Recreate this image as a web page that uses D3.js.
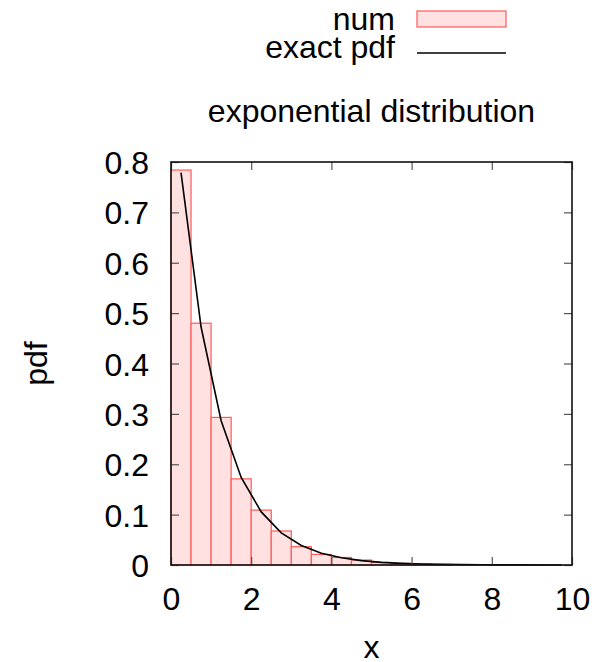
<!DOCTYPE html>
<html>
<head>
<meta charset="utf-8">
<script src="https://cdn.jsdelivr.net/npm/d3@7"></script>
<style>
  html, body { margin: 0; padding: 0; background: #fff; }
  svg { display: block; font-family: "Liberation Sans", Arial, sans-serif; }
</style>
</head>
<body>
<svg id="chart" width="600" height="662"></svg>
<script>
// Histogram bins (left edges) and numeric pdf estimate
const binStarts = [0, 0.5, 1, 1.5, 2, 2.5, 3, 3.5, 4, 4.5, 5, 5.5, 6, 6.5];
const binWidth = 0.5;
const numValues = [0.784, 0.480, 0.293, 0.171, 0.109, 0.0675, 0.0364, 0.021, 0.015, 0.0099, 0.005, 0.003, 0.002, 0.001];
// Exact pdf sampled at bin centres
const exactX = [0.25, 0.75, 1.25, 1.75, 2.25, 2.75, 3.25, 3.75, 4.25, 4.75, 5.25, 5.75, 6.25, 6.75, 7.25, 7.75, 8.25, 8.75, 9.25, 9.75];
const exactY = [0.7788, 0.4724, 0.2865, 0.1738, 0.1054, 0.0639, 0.0388, 0.0235, 0.0143, 0.0087, 0.0052, 0.0032, 0.0019, 0.0012, 0.0007, 0.0004, 0.0003, 0.0002, 0.0001, 0.00006];
const xTicks = [0, 2, 4, 6, 8, 10];
const yTicks = [0, 0.1, 0.2, 0.3, 0.4, 0.5, 0.6, 0.7, 0.8];
const titleText = "exponential distribution";
const xLabel = "x";
const yLabel = "pdf";
const legendLabels = ["num", "exact pdf"];

const svg = d3.select("#chart");
const pLeft = 171, pRight = 572, pTop = 162, pBottom = 565;
const fs = 32;

const x = d3.scaleLinear().domain([0, 10]).range([pLeft, pRight]);
const y = d3.scaleLinear().domain([0, 0.8]).range([pBottom, pTop]);

const barFill = "#ffe1e1";
const barStroke = "#ff5a5a";

// bars
svg.append("g").selectAll("rect").data(binStarts).join("rect")
  .attr("x", (d) => x(d))
  .attr("y", (d, i) => y(numValues[i]))
  .attr("width", (d) => x(d + binWidth) - x(d))
  .attr("height", (d, i) => y(0) - y(numValues[i]))
  .attr("fill", barFill)
  .attr("stroke", barStroke)
  .attr("stroke-width", 1.2);

// exact pdf line
const line = d3.line().x((d, i) => x(exactX[i])).y((d) => y(d));
svg.append("path").datum(exactY)
  .attr("d", line)
  .attr("fill", "none")
  .attr("stroke", "#000")
  .attr("stroke-width", 1.6);

// axes with inward ticks
function styleAxis(g) {
  g.select(".domain").remove();
  g.selectAll(".tick line").attr("stroke", "#555").attr("stroke-width", 1.2);
  g.selectAll(".tick text").attr("fill", "#000").style("font-size", fs + "px")
    .style("font-family", "'Liberation Sans', Arial, sans-serif");
}
const fmtY = (d) => d === 0 ? "0" : d3.format(".1f")(d);

svg.append("g").attr("transform", `translate(0,${pBottom})`)
  .call(d3.axisBottom(x).tickValues(xTicks).tickSize(-8).tickPadding(22).tickFormat(d3.format("d")))
  .call(styleAxis);
svg.append("g").attr("transform", `translate(0,${pTop})`)
  .call(d3.axisTop(x).tickValues(xTicks).tickSize(-8).tickFormat(""))
  .call(styleAxis);
const gl = svg.append("g").attr("transform", `translate(${pLeft},0)`)
  .call(d3.axisLeft(y).tickValues(yTicks).tickSize(-8).tickPadding(22).tickFormat(fmtY))
  .call(styleAxis);
gl.selectAll(".tick text").attr("dy", "0.36em");
svg.append("g").attr("transform", `translate(${pRight},0)`)
  .call(d3.axisRight(y).tickValues(yTicks).tickSize(-8).tickFormat(""))
  .call(styleAxis);

// border
svg.append("rect")
  .attr("x", pLeft).attr("y", pTop)
  .attr("width", pRight - pLeft).attr("height", pBottom - pTop)
  .attr("fill", "none").attr("stroke", "#111").attr("stroke-width", 1.6);

// title & labels
svg.append("text").attr("x", (pLeft + pRight) / 2).attr("y", 122)
  .attr("text-anchor", "middle").style("font-size", fs + "px").text(titleText);
svg.append("text").attr("x", (pLeft + pRight) / 2).attr("y", 658)
  .attr("text-anchor", "middle").style("font-size", fs + "px").text(xLabel);
svg.append("text").attr("transform", `translate(47,${(pTop + pBottom) / 2}) rotate(-90)`)
  .attr("text-anchor", "middle").style("font-size", fs + "px").text(yLabel);

// legend
const lg = svg.append("g");
lg.append("text").attr("x", 395).attr("y", 30).attr("text-anchor", "end")
  .style("font-size", fs + "px").text(legendLabels[0]);
lg.append("rect").attr("x", 417).attr("y", 11).attr("width", 89).attr("height", 16)
  .attr("fill", barFill).attr("stroke", barStroke).attr("stroke-width", 1.2);
lg.append("text").attr("x", 395).attr("y", 58).attr("text-anchor", "end")
  .style("font-size", fs + "px").text(legendLabels[1]);
lg.append("line").attr("x1", 417).attr("x2", 506).attr("y1", 53).attr("y2", 53)
  .attr("stroke", "#000").attr("stroke-width", 1.6);
</script>
</body>
</html>
